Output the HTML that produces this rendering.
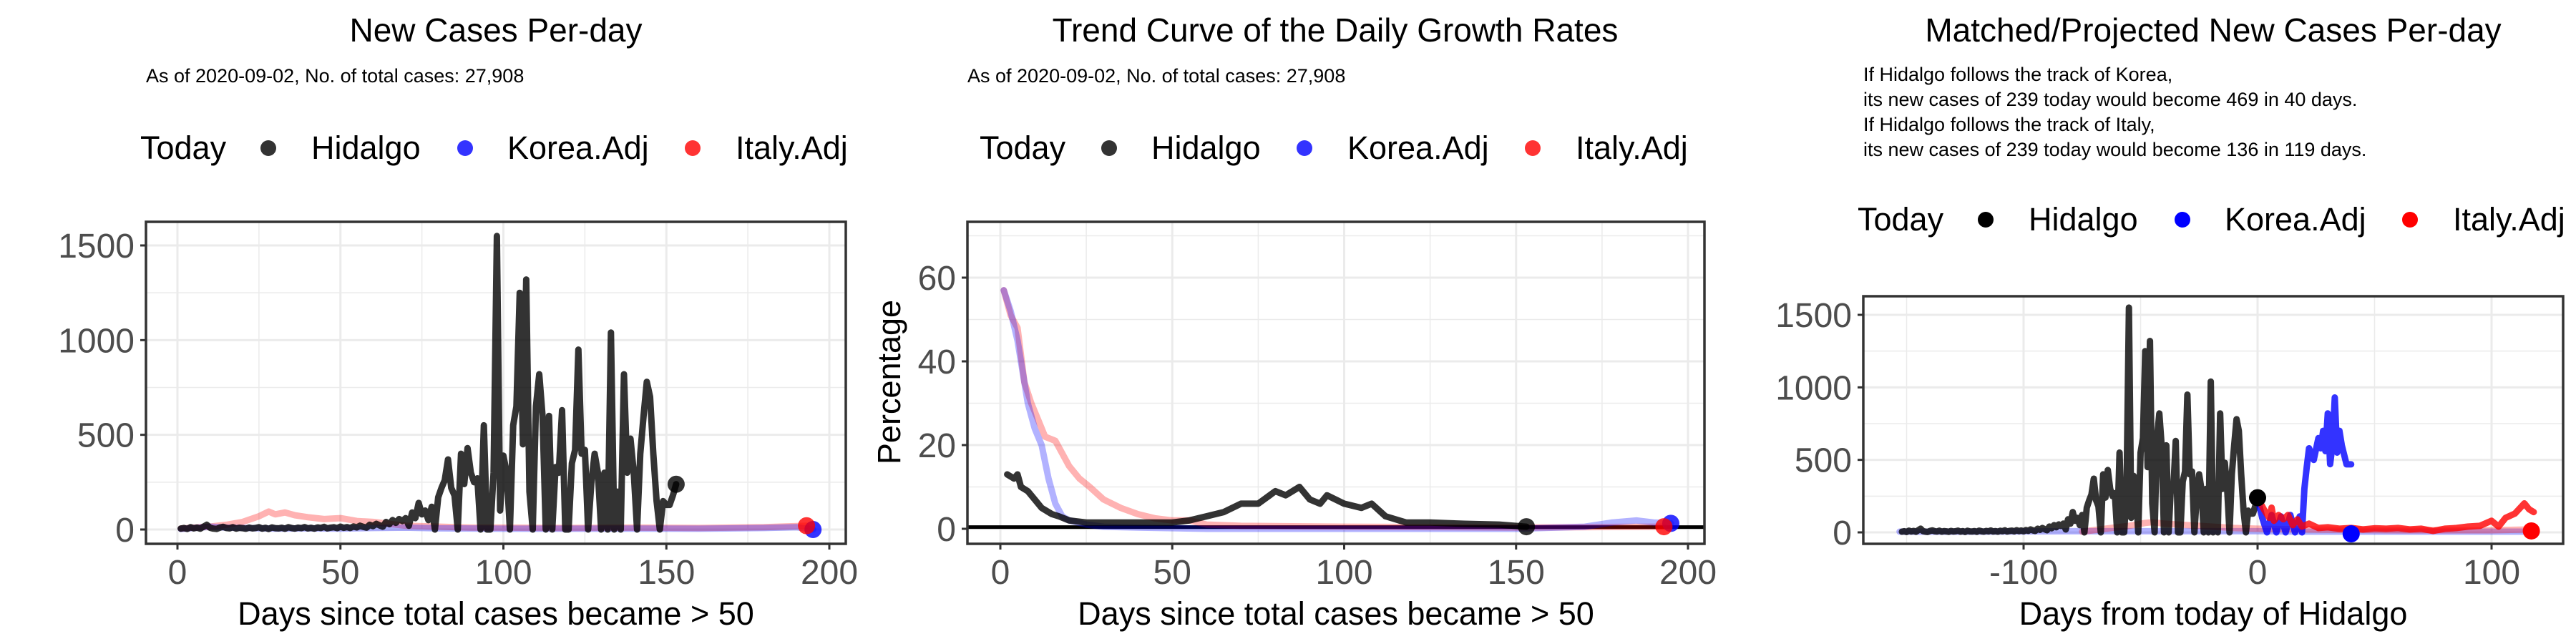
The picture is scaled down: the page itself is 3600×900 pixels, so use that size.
<!DOCTYPE html>
<html><head><meta charset="utf-8">
<style>
html,body{margin:0;padding:0;background:#fff;}
svg{display:block;font-family:"Liberation Sans",Arial,sans-serif;}
</style></head>
<body>
<svg id="chart" width="3600" height="900" viewBox="0 0 3600 900" xmlns="http://www.w3.org/2000/svg">
</svg>
<script>
// ---------- DATA ----------
const hidalgoCases = [
5,8,3,12,6,10,4,15,25,9, 5,3,10,14,8,6,12,5,9,7,
4,10,6,8,12,5,9,3,11,7, 6,9,4,12,8,5,10,7,13,6,
9,5,11,8,14,6,10,12,7,15, 9,13,8,16,11,20,14,10,25,18,
30,22,15,40,28,50,35,55,45,60, 20,90,60,140,80,100,50,120,0,170,
220,260,370,220,180,0,400,240,430,300, 250,270,0,550,0,0,300,1550,100,390,
300,0,550,650,1250,450,1320,200,0,650, 820,600,0,600,0,330,300,630,0,0,
350,420,950,400,420,0,250,400,300,0, 300,0,1040,0,200,0,820,300,480,300,
0,400,600,780,700,400,150,0,150,130, 130,180,239];
const italyDays = [1,5,10,15,20,25,28,30,33,36,40,45,50,55,60,65,70,80,90,100,120,140,160,180,190,193];
const italyVals = [5,10,15,25,40,70,95,80,90,75,65,55,60,45,40,30,20,15,10,10,8,10,8,12,18,20];
const koreaDays = [1,5,10,15,20,30,40,50,60,70,80,100,120,140,160,180,190,195];
const koreaVals = [3,8,15,10,8,5,6,5,8,10,6,4,4,5,4,8,12,0];
const hidGrDays = [2,4,5,6,8,10,12,14,15,17,20,25,30,40,50,55,60,65,70,75,80,83,87,90,93,95,100,105,108,112,118,125,135,145,153];
const hidGrVals = [13,12,13,10,9,7,5,4,3.5,3,2,1.5,1.5,1.5,1.5,2,3,4,6,6,9,8,10,7,6,8,6,5,6,3,1.5,1.5,1.2,1,0.5];
const korGrDays = [1,3,5,7,8,10,12,14,16,18,20,25,30,40,60,100,150,170,178,185,190,195];
const korGrVals = [57,52,45,35,30,24,20,12,6,3,2,1,0.5,0.3,0,0,0,0.5,1.5,2,1.5,1.3];
const itaGrDays = [1,3,5,7,9,11,13,16,18,20,23,26,30,35,40,45,50,55,60,70,100,150,193];
const itaGrVals = [57,51,48,35,30,26,22,21,18,15,12,10,7,5,3.5,2.5,2,2,1,0.7,0.5,0.3,0.5];
const korProjDays = [0,2,4,6,8,10,12,14,16,18,19,20,21,22,24,26,27,28,29,30,31,32,33,34,35,36,38,40];
const korProjVals = [239,100,0,120,0,110,0,120,0,110,0,300,450,580,500,650,580,700,560,820,470,600,930,550,700,600,469,469];
const itaProjDays = [0,3,5,6,7,9,11,13,15,17,19,22,26,30,35,40,45,50,55,60,65,70,75,80,85,90,95,100,103,106,110,114,116,118];
const itaProjVals = [239,150,100,170,80,120,90,120,50,90,40,60,30,35,25,30,20,28,25,30,20,25,10,25,30,40,45,80,40,100,130,200,160,140];
const korMatchDays = [-153,-120,-80,-40,0,20,60,100,118];
const korMatchVals = [5,5,8,8,8,5,5,5,5];
const itaMatchDays = [-75,-65,-55,-48,-45,-40,-30,-20,-10,0,20,60,100,118];
const itaMatchVals = [5,25,45,65,70,60,50,40,30,25,20,15,15,20];
const yTicks1 = [0,500,1000,1500];
const xTicks1 = [0,50,100,150,200];
const yTicks2 = [0,20,40,60];
const xTicks3 = [-100,0,100];

// ---------- HELPERS ----------
const NS = "http://www.w3.org/2000/svg";
const svg = document.getElementById('chart');
function mk(tag, attrs, parent) {
  const e = document.createElementNS(NS, tag);
  for (const k in attrs) e.setAttribute(k, attrs[k]);
  (parent || svg).appendChild(e);
  return e;
}
function txt(s, attrs, parent) { const t = mk('text', attrs, parent); t.textContent = s; return t; }
function lin(d0, d1, r0, r1) { return v => r0 + (v - d0) * (r1 - r0) / (d1 - d0); }

function panel(cfg) {
  const g = mk('g', {});
  
  
  const X = lin(cfg.xd[0], cfg.xd[1], cfg.xr[0], cfg.xr[1]);
  const Y = lin(cfg.yd[0], cfg.yd[1], cfg.yr[0], cfg.yr[1]);
  const L = cfg.box[0], R = cfg.box[1], T = cfg.box[2], B = cfg.box[3];
  mk('rect', {x: L, y: T, width: R - L, height: B - T, fill: '#fff'}, g);
  cfg.xMinor.forEach(v => { const x = X(v); if (x > L && x < R) mk('line', {x1: x, x2: x, y1: T, y2: B, stroke: '#ebebeb', 'stroke-width': 1.5}, g); });
  cfg.yMinor.forEach(v => { const y = Y(v); if (y > T && y < B) mk('line', {x1: L, x2: R, y1: y, y2: y, stroke: '#ebebeb', 'stroke-width': 1.5}, g); });
  cfg.xTicks.forEach(v => { const x = X(v); mk('line', {x1: x, x2: x, y1: T, y2: B, stroke: '#ebebeb', 'stroke-width': 3}, g); });
  cfg.yTicks.forEach(v => { const y = Y(v); mk('line', {x1: L, x2: R, y1: y, y2: y, stroke: '#ebebeb', 'stroke-width': 3}, g); });
  const clipId = 'clip-' + cfg.name;
  const cp = mk('clipPath', {id: clipId}, g);
  mk('rect', {x: L, y: T, width: R - L, height: B - T}, cp);
  const plot = mk('g', {'clip-path': 'url(#' + clipId + ')'}, g);
  if (cfg.hline !== undefined) {
    const hl = mk('line', {x1: L, x2: R, y1: Y(cfg.hline), y2: Y(cfg.hline), stroke: '#000', 'stroke-width': 5}, plot);
    
    
  }
  cfg.series.forEach(s => {
    const pts = s.xs.map((d, i) => X(d).toFixed(1) + ',' + Y(s.ys[i]).toFixed(1)).join(' ');
    const p = mk('polyline', {points: pts, fill: 'none', stroke: s.color, 'stroke-width': 9, 'stroke-linejoin': 'round', 'stroke-linecap': 'round'}, plot);
    
    
  });
  cfg.dots.forEach(d => {
    const c = mk('circle', {cx: X(d.x), cy: Y(d.y), r: 12, fill: d.color}, plot);
    
    
  });
  mk('rect', {x: L, y: T, width: R - L, height: B - T, fill: 'none', stroke: '#333', 'stroke-width': 3.5}, g);
  cfg.yTicks.forEach(v => {
    const y = Y(v);
    mk('line', {x1: L - 8, x2: L, y1: y, y2: y, stroke: '#333', 'stroke-width': 3}, g);
    const t = txt(String(v), {x: L - 16, y: y + 17, 'text-anchor': 'end', 'font-size': 48, fill: '#4d4d4d'}, g);
    
    
  });
  cfg.xTicks.forEach(v => {
    const x = X(v);
    mk('line', {x1: x, x2: x, y1: B, y2: B + 8, stroke: '#333', 'stroke-width': 3}, g);
    const t = txt(String(v), {x: x, y: 816, 'text-anchor': 'middle', 'font-size': 48, fill: '#4d4d4d'}, g);
    
    
  });
  const xt = txt(cfg.xTitle, {x: cfg.xTitleX, y: 873, 'text-anchor': 'middle', 'font-size': 45, fill: '#000'}, g);
  
  
  const tt = txt(cfg.title, {x: cfg.titleX, y: 58, 'text-anchor': 'middle', 'font-size': 46, fill: '#000'}, g);
  
  
  cfg.sub.forEach((s, i) => {
    const st = txt(s, {x: cfg.subX, y: cfg.subY[i], 'font-size': 27, fill: '#000'}, g);
    
    
  });
  const lg = mk('g', {}, g);
  
  
  const ly = cfg.legY;
  const lt = txt('Today', {x: cfg.leg[0], y: ly, 'font-size': 45, fill: '#000'}, lg);
  
  
  const names = ['Hidalgo', 'Korea.Adj', 'Italy.Adj'];
  names.forEach((n, i) => {
    const c = mk('circle', {cx: cfg.leg[1 + i * 2], cy: ly - 15, r: 11, fill: cfg.legColors[i]}, lg);
    
    
    const t = txt(n, {x: cfg.leg[2 + i * 2], y: ly, 'font-size': 45, fill: '#000'}, lg);
    
    
  });
  return {g, X, Y};
}

const hidDays = hidalgoCases.map((v, i) => i + 1);
const hidShift = hidalgoCases.map((v, i) => i + 1 - hidalgoCases.length);
const legDim = ['rgba(0,0,0,0.8)', 'rgba(0,0,255,0.8)', 'rgba(255,0,0,0.8)'];

panel({
  name: 'new-cases-panel', box: [204, 1182, 310, 760],
  xd: [0, 200], xr: [248, 1159], yd: [0, 1500], yr: [740, 343],
  xTicks: xTicks1, yTicks: yTicks1, xMinor: [-25, 25, 75, 125, 175], yMinor: [250, 750, 1250],
  series: [
    {name: 'italy-adj-line', xs: italyDays, ys: italyVals, color: 'rgba(255,0,0,0.3)'},
    {name: 'korea-adj-line', xs: koreaDays, ys: koreaVals, color: 'rgba(0,0,255,0.3)'},
    {name: 'hidalgo-line', xs: hidDays, ys: hidalgoCases, color: 'rgba(0,0,0,0.8)'}
  ],
  dots: [
    {name: 'hidalgo-today-dot', x: 153, y: hidalgoCases[hidalgoCases.length - 1], color: 'rgba(0,0,0,0.8)'},
    {name: 'korea-today-dot', x: 195, y: 0, color: 'rgba(0,0,255,0.8)'},
    {name: 'italy-today-dot', x: 193, y: 20, color: 'rgba(255,0,0,0.8)'}
  ],
  xTitle: 'Days since total cases became > 50', xTitleX: 693,
  title: 'New Cases Per-day', titleX: 693,
  sub: ['As of 2020-09-02, No. of total cases: 27,908'], subX: 204, subY: [115],
  legY: 222, leg: [196, 375, 435, 650, 709, 968, 1028], legColors: legDim
});

const p2 = panel({
  name: 'growth-rate-panel', box: [1352, 2382, 310, 760],
  xd: [0, 200], xr: [1398, 2359], yd: [0, 60], yr: [739, 388],
  xTicks: xTicks1, yTicks: yTicks2, xMinor: [-25, 25, 75, 125, 175], yMinor: [10, 30, 50, 70],
  hline: 0.4,
  series: [
    {name: 'italy-adj-growth-line', xs: itaGrDays, ys: itaGrVals, color: 'rgba(255,0,0,0.3)'},
    {name: 'korea-adj-growth-line', xs: korGrDays, ys: korGrVals, color: 'rgba(0,0,255,0.3)'},
    {name: 'hidalgo-growth-line', xs: hidGrDays, ys: hidGrVals, color: 'rgba(0,0,0,0.8)'}
  ],
  dots: [
    {name: 'hidalgo-today-dot', x: 153, y: 0.5, color: 'rgba(0,0,0,0.8)'},
    {name: 'korea-today-dot', x: 195, y: 1.3, color: 'rgba(0,0,255,0.8)'},
    {name: 'italy-today-dot', x: 193, y: 0.5, color: 'rgba(255,0,0,0.8)'}
  ],
  xTitle: 'Days since total cases became > 50', xTitleX: 1867,
  title: 'Trend Curve of the Daily Growth Rates', titleX: 1866,
  sub: ['As of 2020-09-02, No. of total cases: 27,908'], subX: 1352, subY: [115],
  legY: 222, leg: [1369, 1550, 1609, 1823, 1883, 2142, 2202], legColors: legDim
});
const yl = txt('Percentage', {x: 0, y: 0, 'font-size': 45, fill: '#000', 'text-anchor': 'middle', transform: 'translate(1258,534) rotate(-90)'}, p2.g);



panel({
  name: 'projected-cases-panel', box: [2604, 3582, 414, 760],
  xd: [-100, 100], xr: [2828, 3482], yd: [0, 1500], yr: [744, 440],
  xTicks: xTicks3, yTicks: yTicks1, xMinor: [-150, -50, 50], yMinor: [250, 750, 1250],
  series: [
    {name: 'korea-matched-line', xs: korMatchDays, ys: korMatchVals, color: 'rgba(0,0,255,0.3)'},
    {name: 'italy-matched-line', xs: itaMatchDays, ys: itaMatchVals, color: 'rgba(255,0,0,0.3)'},
    {name: 'hidalgo-line', xs: hidShift, ys: hidalgoCases, color: 'rgba(0,0,0,0.8)'},
    {name: 'korea-projection-line', xs: korProjDays, ys: korProjVals, color: 'rgba(0,0,255,0.8)'},
    {name: 'italy-projection-line', xs: itaProjDays, ys: itaProjVals, color: 'rgba(255,0,0,0.8)'}
  ],
  dots: [
    {name: 'hidalgo-today-dot', x: 0, y: 239, color: '#000'},
    {name: 'korea-projection-dot', x: 40, y: -10, color: '#00f'},
    {name: 'italy-projection-dot', x: 117, y: 10, color: '#f00'}
  ],
  xTitle: 'Days from today of Hidalgo', xTitleX: 3093,
  title: 'Matched/Projected New Cases Per-day', titleX: 3093,
  sub: ['If Hidalgo follows the track of Korea,', 'its new cases of 239 today would become 469 in 40 days.',
        'If Hidalgo follows the track of Italy,', 'its new cases of 239 today would become 136 in 119 days.'],
  subX: 2604, subY: [113, 148, 183, 218],
  legY: 322, leg: [2596, 2775, 2835, 3050, 3109, 3368, 3428], legColors: ['#000', '#00f', '#f00']
});
</script>
</body></html>
